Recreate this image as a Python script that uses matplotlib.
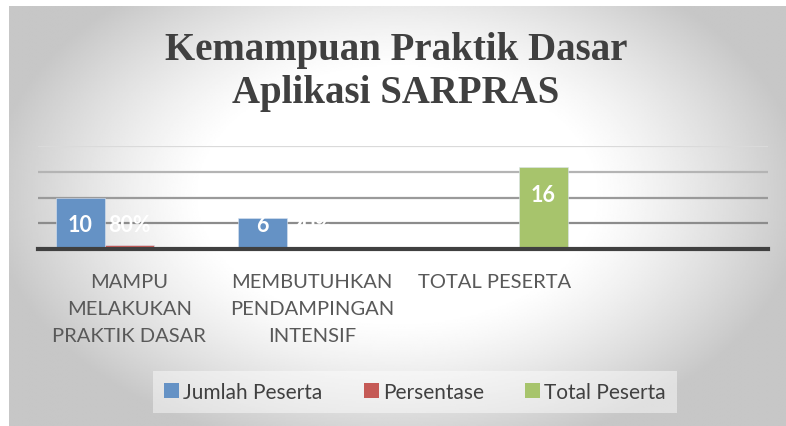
import numpy as np
import matplotlib
matplotlib.use('Agg')
import matplotlib.pyplot as plt
from matplotlib.patches import Patch

# data
categories = ['MAMPU\nMELAKUKAN\nPRAKTIK DASAR', 'MEMBUTUHKAN\nPENDAMPINGAN\nINTENSIF', 'TOTAL PESERTA', '']
series_names = ['Jumlah Peserta', 'Persentase', 'Total Peserta']
jumlah = [10, 6, None, None]
persen = [0.8, 0.2, None, None]
persen_labels = ['80%', '20%', None, None]
total = [None, None, 16, None]
colors = ['#6592c5', '#c55a56', '#a7c46c']

W, H = 786, 427
fig = plt.figure(figsize=(W / 100, H / 100), dpi=100)

# radial grey background of the chart area (white strip at top/left)
bg = fig.add_axes([9 / W, 0, 1 - 9 / W, 1 - 7 / H])
yy, xx = np.mgrid[0:1:300j, 0:1:500j]
r = np.sqrt(((xx - 0.5) / 0.5) ** 2 + ((yy - 0.45) / 0.6) ** 2)
t = np.clip((r - 0.5) / 0.55, 0, 1) ** 1.2
bg.imshow(1 - 0.22 * t, cmap='gray', vmin=0, vmax=1, aspect='auto',
          extent=[0, 1, 0, 1], interpolation='bilinear')
bg.axis('off')

ax = fig.add_axes([38 / W, (H - 250) / H, (768 - 38) / W, (250 - 147) / H])
ax.patch.set_alpha(0)

x = np.arange(len(categories))
bw = 0.268
offsets = [-bw, 0, bw]
all_vals = [jumlah, persen, total]
for k, vals in enumerate(all_vals):
    xs = [x[i] + offsets[k] for i in range(len(vals)) if vals[i] is not None]
    vs = [v for v in vals if v is not None]
    ax.bar(xs, vs, width=bw, color=colors[k], edgecolor='#dbe4f0', linewidth=0.4, zorder=3)

lab_font = dict(family=['Lato', 'DejaVu Sans'], fontsize=15.5, fontweight='bold', color='white')
for k, vals in enumerate(all_vals):
    for i, v in enumerate(vals):
        if v is None:
            continue
        txt = persen_labels[i] if k == 1 else str(v)
        ax.text(x[i] + offsets[k], max(v - 5.4, 4.8), txt, ha='center', va='center',
                zorder=5, **lab_font)

ax.set_xlim(-0.5, len(categories) - 0.5)
ax.set_ylim(0, 20)
ax.set_yticks([5, 10, 15, 20])
ax.tick_params(axis='y', left=False, labelleft=False)
ax.grid(axis='y', linewidth=1.6, zorder=1)
grid_cols = ['#8c8c8c', '#9a9a9a', '#b4b4b4', '#dadada']
for gl, c in zip(ax.get_ygridlines(), grid_cols):
    gl.set_color(c)
for s in ['top', 'right', 'left']:
    ax.spines[s].set_visible(False)
ax.spines['bottom'].set_color('#404040')
ax.spines['bottom'].set_linewidth(3)
ax.spines['bottom'].set_zorder(4)

ax.set_xticks(x)
ax.set_xticklabels(categories, family=['Lato', 'DejaVu Sans'], fontsize=14.5,
                   color='#595959', linespacing=1.72)
ax.tick_params(axis='x', bottom=False, pad=14)

fig.text(396 / W, 1 - 72 / H, 'Kemampuan Praktik Dasar\nAplikasi SARPRAS',
         ha='center', va='center', family='Liberation Serif', fontweight='bold',
         fontsize=28, color='#404040', linespacing=1.2)

handles = [Patch(facecolor=c, edgecolor='none') for c in colors]
leg = fig.legend(handles, series_names, loc='center', bbox_to_anchor=(415 / W, 1 - 393 / H),
                 ncol=3, frameon=True, fancybox=False, handlelength=0.7, handleheight=0.7,
                 handletextpad=0.2, columnspacing=2.0, borderpad=0.55,
                 prop={'family': ['Lato', 'DejaVu Sans'], 'size': 15})
leg.get_frame().set_facecolor('white')
leg.get_frame().set_alpha(0.45)
leg.get_frame().set_edgecolor('none')
for t_ in leg.get_texts():
    t_.set_color('#404040')

fig.savefig('out.png', dpi=100)
